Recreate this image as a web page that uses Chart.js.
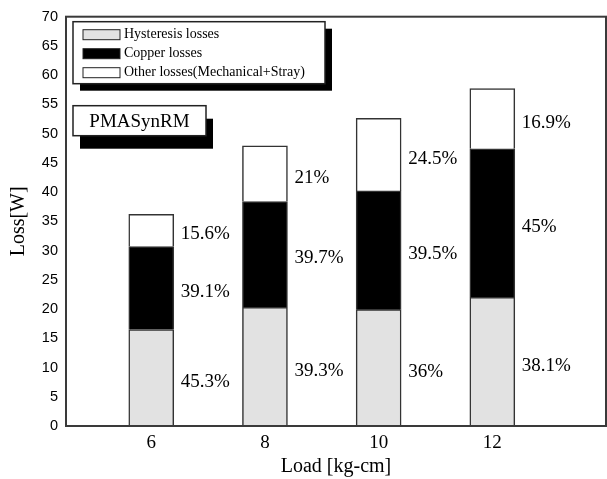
<!DOCTYPE html>
<html>
<head>
<meta charset="utf-8">
<script src="https://cdn.jsdelivr.net/npm/chart.js@4/dist/chart.umd.min.js"></script>
<style>
  body { margin: 0; background: #fff; }
  #wrap { width: 607px; height: 479px; }
</style>
</head>
<body>
<div id="wrap"><canvas id="lossChart"></canvas></div>
<script>
// data
const loads = [6, 8, 10, 12];
const hysteresis = [16.5, 20.3, 19.9, 22.0];
const copper = [14.2, 18.1, 20.3, 25.4];
const other = [5.5, 9.5, 12.4, 10.3];

const hysteresisPct = ['45.3%', '39.3%', '36%', '38.1%'];
const copperPct = ['39.1%', '39.7%', '39.5%', '45%'];
const otherPct = ['15.6%', '21%', '24.5%', '16.9%'];

const yTicks = [0, 5, 10, 15, 20, 25, 30, 35, 40, 45, 50, 55, 60, 65, 70];

const SERIF = '"Liberation Serif", "Times New Roman", serif';
const SANS = '"Liberation Sans", Arial, sans-serif';
const EDGE = '#333';

function toPoints(arr) {
    return arr.map((v, i) => ({ x: loads[i], y: v }));
}

// box round the plot area
const framePlugin = {
    id: 'frame',
    afterDraw(chart) {
        const { ctx, chartArea: a } = chart;
        ctx.save();
        ctx.strokeStyle = '#3a3a3a';
        ctx.lineWidth = 2;
        ctx.strokeRect(a.left, a.top, a.right - a.left, a.bottom - a.top);
        ctx.restore();
    }
};

// percentage text next to each segment
const pctPlugin = {
    id: 'pct',
    afterDatasetsDraw(chart) {
        const { ctx } = chart;
        const labels = [hysteresisPct, copperPct, otherPct];
        ctx.save();
        ctx.font = '19px ' + SERIF;
        ctx.fillStyle = '#000';
        ctx.textBaseline = 'middle';
        ctx.textAlign = 'left';
        chart.data.datasets.forEach((ds, d) => {
            const meta = chart.getDatasetMeta(d);
            meta.data.forEach((bar, i) => {
                const mid = (bar.y + bar.base) / 2;
                ctx.fillText(labels[d][i], bar.x + bar.width / 2 + 7, mid + 4);
            });
        });
        ctx.restore();
    }
};

function shadowBox(ctx, x, y, w, h, dx, dy) {
    ctx.fillStyle = '#000';
    ctx.fillRect(x + dx, y + dy, w, h);
    ctx.fillStyle = '#fff';
    ctx.fillRect(x, y, w, h);
    ctx.strokeStyle = '#222';
    ctx.lineWidth = 1.5;
    ctx.strokeRect(x, y, w, h);
}

// legend and motor name boxes
const boxesPlugin = {
    id: 'boxes',
    afterDraw(chart) {
        const { ctx, chartArea: a } = chart;
        ctx.save();
        const lx = a.left + 7, ly = a.top + 5;
        shadowBox(ctx, lx, ly, 252, 62, 7, 7);
        ctx.font = '14px ' + SERIF;
        ctx.textBaseline = 'middle';
        chart.data.datasets.forEach((ds, d) => {
            const cy = ly + 13 + d * 19;
            ctx.fillStyle = ds.backgroundColor;
            ctx.fillRect(lx + 10, cy - 5, 37, 10);
            ctx.strokeStyle = '#222';
            ctx.lineWidth = 1;
            ctx.strokeRect(lx + 10, cy - 5, 37, 10);
            ctx.fillStyle = '#000';
            ctx.fillText(ds.label, lx + 51, cy);
        });

        const px = a.left + 7, py = a.top + 89;
        shadowBox(ctx, px, py, 133, 30, 7, 13);
        ctx.font = '19px ' + SERIF;
        ctx.fillStyle = '#000';
        ctx.textAlign = 'center';
        ctx.fillText('PMASynRM', px + 133 / 2, py + 16);
        ctx.restore();
    }
};

const ctx = document.getElementById('lossChart').getContext('2d');
const chart = new Chart(ctx, {
    type: 'bar',
    data: {
        datasets: [{
            label: 'Hysteresis losses',
            data: toPoints(hysteresis),
            backgroundColor: '#e2e2e2',
            borderColor: EDGE,
            borderWidth: 1.5,
            barThickness: 45
        },
        {
            label: 'Copper losses',
            data: toPoints(copper),
            backgroundColor: '#000',
            borderColor: EDGE,
            borderWidth: 1.5,
            barThickness: 45
        },
        {
            label: 'Other losses(Mechanical+Stray)',
            data: toPoints(other),
            backgroundColor: '#fff',
            borderColor: EDGE,
            borderWidth: 1.5,
            barThickness: 45
        }]
    },
    options: {
        responsive: true,
        maintainAspectRatio: false,
        animation: false,
        layout: { padding: { top: 15, right: 1, left: 0, bottom: 0 } },
        plugins: {
            legend: { display: false },
            tooltip: { enabled: false }
        },
        scales: {
            x: {
                type: 'linear',
                stacked: true,
                offset: false,
                min: 4.5,
                max: 14,
                grid: { display: false, drawTicks: false },
                border: { display: false },
                afterBuildTicks: (scale) => { scale.ticks = loads.map(v => ({ value: v })); },
                afterFit: (scale) => { scale.height = 53; },
                ticks: {
                    color: '#000',
                    font: { family: SERIF, size: 19 },
                    padding: 6,
                    maxRotation: 0
                },
                title: {
                    display: true,
                    text: 'Load [kg-cm]',
                    color: '#000',
                    font: { family: SERIF, size: 20 },
                    padding: { top: 0, bottom: 0 }
                }
            },
            y: {
                stacked: true,
                min: 0,
                max: 70,
                grid: { display: false, drawTicks: false },
                border: { display: false },
                afterBuildTicks: (scale) => { scale.ticks = yTicks.map(v => ({ value: v })); },
                afterFit: (scale) => { scale.width = 66; },
                ticks: {
                    color: '#000',
                    font: { family: SANS, size: 14.5 },
                    padding: 8
                },
                title: {
                    display: true,
                    text: 'Loss[W]',
                    color: '#000',
                    font: { family: SERIF, size: 20 },
                    padding: { top: 7, bottom: 0 }
                }
            }
        }
    },
    plugins: [framePlugin, pctPlugin, boxesPlugin]
});
</script>
</body>
</html>
